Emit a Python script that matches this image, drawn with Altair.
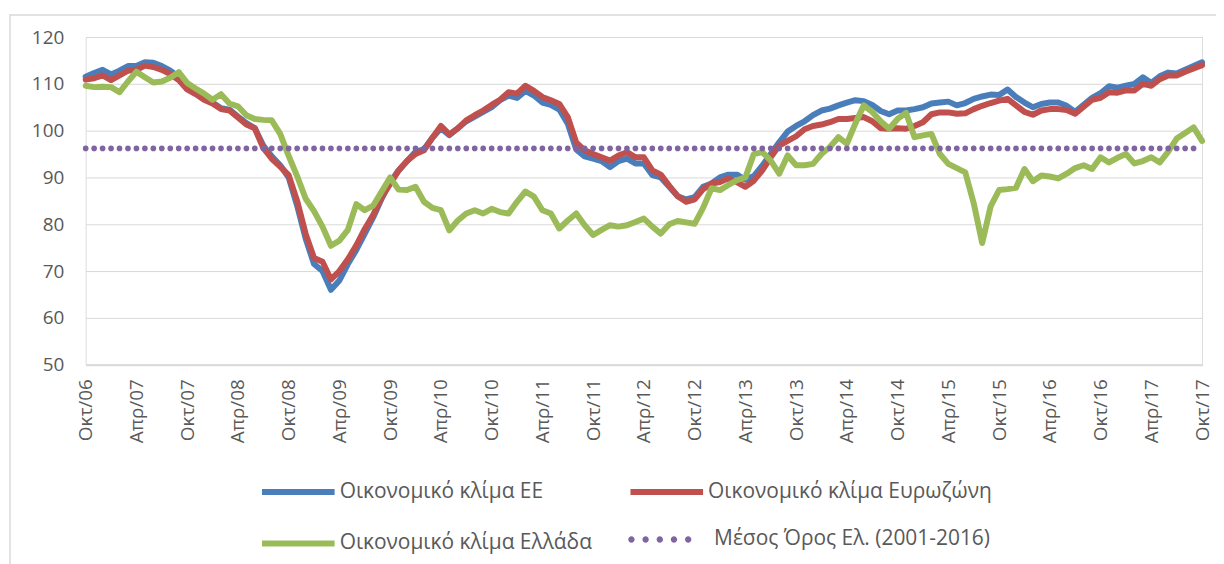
import altair as alt
import pandas as pd

month_names = ["Ιαν", "Φεβ", "Μαρ", "Απρ", "Μαϊ", "Ιουν", "Ιουλ", "Αυγ", "Σεπ", "Οκτ", "Νοε", "Δεκ"]
months = []
for k in range(133):
    m = (9 + k) % 12
    yy = 2006 + (9 + k) // 12
    months.append(f"{month_names[m]}/{yy % 100:02d}")

tick_labels = ["Οκτ/06", "Απρ/07", "Οκτ/07", "Απρ/08", "Οκτ/08", "Απρ/09", "Οκτ/09",
               "Απρ/10", "Οκτ/10", "Απρ/11", "Οκτ/11", "Απρ/12", "Οκτ/12", "Απρ/13",
               "Οκτ/13", "Απρ/14", "Οκτ/14", "Απρ/15", "Οκτ/15", "Απρ/16", "Οκτ/16",
               "Απρ/17", "Οκτ/17"]

eu = [111.5, 112.3, 113.0, 112.0, 112.8, 113.8, 113.8, 114.6, 114.5, 113.8, 112.8, 111.5,
      109.8, 108.3, 107.2, 106.0, 104.8, 104.5, 103.0, 101.6, 100.5, 96.8, 94.5, 92.6,
      90.0, 84.0, 77.0, 71.5, 70.0, 66.0, 68.0, 71.5, 74.5, 78.0, 81.5, 85.5,
      89.0, 91.5, 93.5, 95.5, 96.0, 98.5, 100.5, 99.0, 100.5, 102.0, 103.0, 104.0,
      105.0, 106.5, 107.5, 107.0, 108.5, 107.5, 106.0, 105.5, 104.5, 101.5, 96.0, 94.5,
      94.0, 93.5, 92.2, 93.5, 94.0, 93.0, 93.0, 90.5, 90.0, 88.0, 86.0, 85.3,
      85.8, 88.0, 88.7, 90.0, 90.6, 90.6, 89.5, 90.3, 92.5, 95.0, 97.5, 99.8,
      101.0, 102.0, 103.3, 104.3, 104.7, 105.4, 106.0, 106.5, 106.3, 105.5, 104.2, 103.5,
      104.3, 104.3, 104.6, 105.0, 105.8, 106.0, 106.2, 105.4, 105.9, 106.8, 107.3, 107.7,
      107.6, 108.8, 107.2, 106.0, 105.0, 105.7, 106.0, 106.0, 105.3, 104.0, 105.5, 107.0,
      108.0, 109.5, 109.2, 109.6, 110.0, 111.4, 110.2, 111.6, 112.4, 112.2, 113.0, 113.8, 114.6]

ea = [110.9, 111.2, 111.8, 110.8, 111.8, 112.8, 113.0, 113.9, 113.6, 113.0, 112.1, 110.8,
      108.8, 107.8, 106.6, 105.8, 104.6, 104.3, 102.8, 101.3, 100.5, 96.3, 94.0, 92.3,
      90.5, 85.0, 78.0, 72.8, 72.0, 68.2, 70.0, 72.5, 75.5, 79.0, 82.0, 85.8,
      88.6, 91.5, 93.5, 95.0, 95.8, 98.5, 101.0, 99.2, 100.5, 102.2, 103.3, 104.3,
      105.5, 106.6, 108.2, 107.9, 109.6, 108.5, 107.2, 106.5, 105.7, 102.9, 97.5, 95.8,
      95.0, 94.3, 93.6, 94.7, 95.4, 94.3, 94.3, 91.5, 90.6, 88.2, 86.0, 84.8,
      85.3, 87.5, 88.7, 89.0, 89.8, 89.0, 88.0, 89.3, 91.5, 94.3, 96.8, 97.8,
      98.8, 100.3, 101.0, 101.3, 101.8, 102.5, 102.5, 102.7, 102.9, 102.0, 100.5, 100.4,
      100.5, 100.4, 101.0, 101.8, 103.5, 103.9, 103.9, 103.6, 103.7, 104.6, 105.3, 105.9,
      106.4, 106.8, 105.4, 104.0, 103.4, 104.3, 104.6, 104.6, 104.4, 103.6, 105.1, 106.6,
      107.0, 108.2, 108.1, 108.6, 108.6, 110.0, 109.6, 111.0, 111.8, 111.8, 112.6, 113.3, 114.0]

gr = [109.6, 109.3, 109.4, 109.3, 108.2, 110.5, 112.6, 111.4, 110.3, 110.5, 111.3, 112.5,
      110.2, 109.0, 107.9, 106.6, 107.8, 105.8, 105.2, 103.3, 102.5, 102.3, 102.2, 99.3,
      94.6, 90.3, 85.5, 82.8, 79.5, 75.4, 76.5, 78.8, 84.3, 83.0, 84.0, 87.0,
      90.0, 87.4, 87.3, 88.0, 84.8, 83.5, 83.0, 78.7, 80.8, 82.3, 83.0, 82.3,
      83.3, 82.6, 82.3, 84.8, 87.0, 85.9, 83.0, 82.3, 79.1, 80.8, 82.3, 79.8,
      77.7, 78.8, 79.8, 79.5, 79.8, 80.5, 81.2, 79.5, 78.0, 80.0, 80.7, 80.4,
      80.1, 83.5, 87.7, 87.3, 88.4, 89.4, 90.0, 95.0, 95.4, 93.6, 90.8, 94.7,
      92.6, 92.6, 92.9, 95.0, 96.5, 98.6, 97.2, 101.5, 105.4, 104.0, 102.0, 100.4,
      102.5, 103.8, 98.6, 99.0, 99.3, 95.0, 92.9, 92.0, 91.1, 84.5, 76.0, 83.8,
      87.3, 87.5, 87.8, 91.8, 89.2, 90.4, 90.2, 89.8, 90.8, 92.0, 92.6, 91.8,
      94.3, 93.2, 94.2, 95.0, 93.0, 93.5, 94.3, 93.2, 95.5, 98.3, 99.5, 100.7, 97.8]

mean_gr = [96.2] * 132

line_names = ["Οικονομικό κλίμα ΕΕ", "Οικονομικό κλίμα Ευρωζώνη", "Οικονομικό κλίμα Ελλάδα"]
line_colors = ["#4A7EBB", "#C0504D", "#9BBB59"]
mean_name = "Μέσος Όρος Ελ. (2001-2016)"
mean_color = "#8064A2"

FONT = "Open Sans"
TXT = "#595959"
W, H = 1121, 329

def frame(vals, name):
    return pd.DataFrame({"month": months[:len(vals)], "value": vals, "series": name})

x_enc = alt.X("month:O", sort=months,
              scale=alt.Scale(type="point", padding=0),
              axis=alt.Axis(values=tick_labels, labelAngle=-90, labelFontSize=19,
                            labelFont=FONT, labelColor=TXT, labelPadding=14,
                            ticks=False, domain=True, domainColor="#D9D9D9",
                            domainWidth=2, grid=False, title=None))
y_enc = alt.Y("value:Q", scale=alt.Scale(domain=[50, 120], nice=False, zero=False),
              axis=alt.Axis(values=list(range(50, 121, 10)), labelFontSize=19,
                            labelFont=FONT, labelColor=TXT, labelPadding=22,
                            ticks=False, domain=False, grid=True, gridColor="#D9D9D9",
                            gridWidth=1, title=None))

# legend line symbol: a stroke longer than the nominal symbol box
line_path = "M-1.62,0L1.62,0"

color_enc = alt.Color("series:N",
                      scale=alt.Scale(domain=line_names, range=line_colors),
                      legend=alt.Legend(orient="none", legendX=188, legendY=431,
                                        columns=2, direction="horizontal",
                                        title=None, symbolType=line_path,
                                        symbolStrokeWidth=6, symbolSize=2025,
                                        labelFontSize=21, labelFont=FONT,
                                        labelColor=TXT, labelOffset=16,
                                        columnPadding=26, rowPadding=14,
                                        labelLimit=0, padding=0))

# chart frame (decorative border around the whole chart area)
border = alt.Chart(pd.DataFrame({"k": [0]})).mark_rect(
    fill=None, stroke="#D9D9D9", strokeWidth=1.5
).encode(x=alt.value(-76), x2=alt.value(W + 40), y=alt.value(-22), y2=alt.value(H + 300))

layers = [border]
for vals, name in [(eu, line_names[0]), (ea, line_names[1]), (gr, line_names[2])]:
    layers.append(
        alt.Chart(frame(vals, name)).mark_line(strokeWidth=6, strokeCap="round",
                                               strokeJoin="round")
        .encode(x=x_enc, y=y_enc, color=color_enc)
    )

r = 0.142
cx = [-1.267, -0.633, 0.0, 0.633, 1.267]
dots_path = "".join(
    f"M{c - r:.3f},0A{r},{r},0,1,1,{c + r:.3f},0A{r},{r},0,1,1,{c - r:.3f},0Z" for c in cx
)

dots = alt.Chart(frame(mean_gr, mean_name)).mark_circle(size=32, opacity=1).encode(
    x=x_enc, y=y_enc,
    fill=alt.Fill("series:N", scale=alt.Scale(domain=[mean_name], range=[mean_color]),
                  legend=alt.Legend(orient="none", legendX=554, legendY=482,
                                    title=None, symbolType=dots_path, symbolSize=2025,
                                    symbolStrokeWidth=0,
                                    labelFontSize=21, labelFont=FONT, labelColor=TXT,
                                    labelOffset=32, labelLimit=0, padding=0))
)
layers.append(dots)

chart = alt.layer(*layers).properties(
    width=W, height=H,
    autosize=alt.AutoSizeParams(type="none"),
    padding={"left": 78, "top": 28, "right": 14, "bottom": 199},
).configure_view(stroke=None).configure(background="white")

chart.save("out.html", embed_options={"renderer": "svg", "actions": False})
